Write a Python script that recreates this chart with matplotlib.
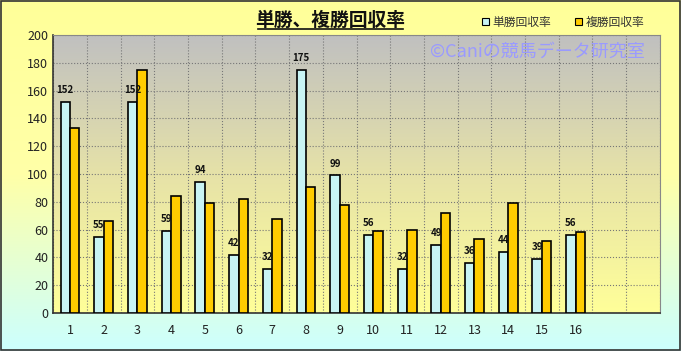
import numpy as np
import matplotlib
matplotlib.use("Agg")
import matplotlib.pyplot as plt
from matplotlib.colors import LinearSegmentedColormap
from matplotlib.patches import Patch, Rectangle

plt.rcParams['font.family'] = ['Noto Sans CJK JP', 'DejaVu Sans']

# data
RACES = [str(i) for i in range(1, 17)]
WIN = [152, 55, 152, 59, 94, 42, 32, 175, 99, 56, 32, 49, 36, 44, 39, 56]
PLACE = [133, 66, 175, 84, 79, 82, 68, 91, 78, 59, 60, 72, 53, 79, 52, 58]
N_SLOTS = 18
TITLE = "単勝、複勝回収率"
SERIES = ["単勝回収率", "複勝回収率"]
WATERMARK = "©Caniの競馬データ研究室"

fig = plt.figure(figsize=(6.81, 3.51), dpi=100)

# figure background gradient (yellow -> light cyan)
bg = fig.add_axes([0, 0, 1, 1], zorder=-10)
bg_cmap = LinearSegmentedColormap.from_list("bg", ["#ffff99", "#ffffa8", "#ccffff"])
bg.imshow(np.linspace(0, 1, 256).reshape(-1, 1), aspect="auto", cmap=bg_cmap,
          extent=[0, 1, 0, 1])
bg.set_axis_off()
fig.add_artist(Rectangle((0.001, 0.002), 0.997, 0.995, transform=fig.transFigure,
                         fill=False, edgecolor="#333333", lw=1.2))

ax = fig.add_axes([0.078, 0.108, 0.891, 0.792])
ax.patch.set_alpha(0)
ax_cmap = LinearSegmentedColormap.from_list("ax", ["#c0c0c0", "#e6e2a8", "#ffff99"])
ax.imshow(np.linspace(0, 1, 256).reshape(-1, 1), aspect="auto", cmap=ax_cmap,
          extent=[0.5, N_SLOTS + 0.5, 0, 200], zorder=0)

x = np.arange(1, len(RACES) + 1)
w = 0.28
ax.bar(x - w / 2, WIN, w, color="#c8f4f4", edgecolor="black", lw=1.2, zorder=3)
ax.bar(x + w / 2, PLACE, w, color="#ffcc00", edgecolor="black", lw=1.2, zorder=3)
for xi, v in zip(x, WIN):
    ax.text(xi - w / 2, v + 5, str(v), ha="center", va="bottom", fontsize=7,
            fontweight="bold", color="#111111", zorder=4)

ax.set_xlim(0.5, N_SLOTS + 0.5)
ax.set_ylim(0, 200)
ax.set_yticks(np.arange(0, 201, 20))
ax.set_xticks(x)
ax.set_xticklabels(RACES)
ax.set_xticks(np.arange(0.5, N_SLOTS + 0.6, 1), minor=True)
ax.tick_params(axis="both", which="both", length=0, labelsize=9, colors="#222222")
ax.tick_params(axis="x", pad=8)
ax.grid(True, axis="y", ls=":", color="#777777", lw=0.8, zorder=1)
ax.grid(True, axis="x", which="minor", ls=":", color="#777777", lw=0.8, zorder=1)
for s in ["top", "right"]:
    ax.spines[s].set_color("#888888")
for s in ["left", "bottom"]:
    ax.spines[s].set_color("#333333")
    ax.spines[s].set_linewidth(1.2)

fig.text(0.485, 0.943, TITLE, ha="center", va="center", fontsize=13.5,
         fontweight="bold", color="#111111")
fig.add_artist(plt.Line2D([0.379, 0.592], [0.918, 0.918], transform=fig.transFigure,
                          color="#111111", lw=1.2))
ax.text(0.975, 0.94, WATERMARK, transform=ax.transAxes, ha="right", va="center",
        fontsize=13, color="#9a9aff", zorder=5)

handles = [Patch(facecolor="#c8f4f4", edgecolor="black", lw=0.8),
           Patch(facecolor="#ffcc00", edgecolor="black", lw=0.8)]
fig.legend(handles, SERIES, loc="center", bbox_to_anchor=(0.827, 0.937), ncol=2,
           frameon=False, fontsize=8.5, handlelength=0.6, handleheight=0.6,
           handletextpad=0.3, columnspacing=2.0, labelcolor="#333333")

fig.savefig("out.png", dpi=100)
